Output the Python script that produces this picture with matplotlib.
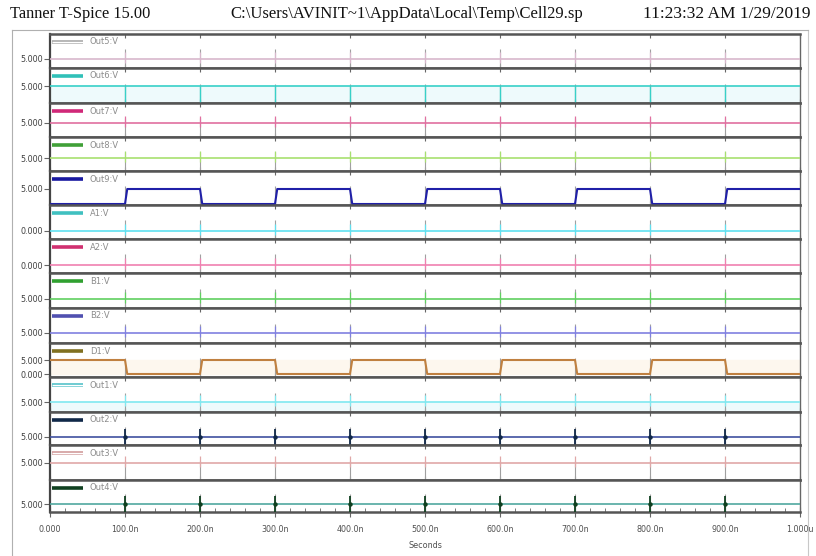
import matplotlib
matplotlib.use("Agg")
import matplotlib.pyplot as plt
from matplotlib.lines import Line2D
import numpy as np

W, H = 816, 556

# ---------------- data ----------------
signal_names = ["Out5:V", "Out6:V", "Out7:V", "Out8:V", "Out9:V", "A1:V", "A2:V",
                "B1:V", "B2:V", "D1:V", "Out1:V", "Out2:V", "Out3:V", "Out4:V"]
legend_colors = ["#a8a8a8", "#30c0b8", "#d02878", "#40a038", "#1818a0", "#40c0c0",
                 "#d03070", "#30a030", "#5050b0", "#807020", "#50c0c8", "#102848",
                 "#d09898", "#104020"]
legend_hollow = [True, False, False, False, False, False, False, False, False,
                 False, True, False, True, False]
line_colors = ["#d8b8cc", "#38d0c8", "#e070a0", "#a8e070", "#2020a8", "#60e0f0",
               "#f080b0", "#60d060", "#8080e0", "#c08040", "#80e8f0", "#4050a0",
               "#e0a8a8", "#50a8a0"]
# constant levels (None -> square wave given below)
flat_levels = [5, 5, 5, 5, None, 0, 0, 5, 5, None, 5, 5, 5, 5]
y_tick_labels = [["5.000"], ["5.000"], ["5.000"], ["5.000"], ["5.000"], ["0.000"],
                 ["0.000"], ["5.000"], ["5.000"], ["5.000", "0.000"], ["5.000"],
                 ["5.000"], ["5.000"], ["5.000"]]

segment_ns = [0, 100, 200, 300, 400, 500, 600, 700, 800, 900, 1000]
out9_levels = [0, 5, 0, 5, 0, 5, 0, 5, 0, 5]
d1_levels = [5, 0, 5, 0, 5, 0, 5, 0, 5, 0]
edge_ns = 3

glitch_ns = [100, 200, 300, 400, 500, 600, 700, 800, 900]

x_ticks_ns = [0, 100, 200, 300, 400, 500, 600, 700, 800, 900, 1000]
x_tick_labels = ["0.000", "100.0n", "200.0n", "300.0n", "400.0n", "500.0n",
                 "600.0n", "700.0n", "800.0n", "900.0n", "1.000u"]

# ---------------- layout ----------------
sep = [34, 68, 103, 137, 171, 205, 239, 273, 308, 343, 377, 412, 445, 480, 512]
# pixel offset of the level line from panel top
line_off = [25, 18, 20, 21, None, 26, 26, 26, 25, None, 25, 25, 18, 24]

fig = plt.figure(figsize=(W / 100, H / 100), dpi=100)
fig.patch.set_facecolor("white")

x0, x1 = 50, 800


def square(levels):
    t, v = [], []
    for k, lv in enumerate(levels):
        a, b = segment_ns[k], segment_ns[k + 1]
        t += [a + (edge_ns if k > 0 else 0), b]
        v += [lv, lv]
    return np.array(t), np.array(v)


for i, name in enumerate(signal_names):
    top, bot = sep[i], sep[i + 1]
    hpx = bot - top
    ax = fig.add_axes([x0 / W, 1 - bot / H, (x1 - x0) / W, hpx / H])
    ax.set_xlim(0, 1000)
    ax.set_facecolor("white")

    if flat_levels[i] is not None:
        lv = flat_levels[i]
        frac = 1 - line_off[i] / hpx
        span = 10.0
        ax.set_ylim(lv - frac * span, lv + (1 - frac) * span)
        ylo = lv - frac * span
        if name in ("Out6:V", "Out1:V"):
            ax.fill_between([0, 1000], [ylo, ylo], [lv, lv], color="#eefafc", zorder=0)
        ax.plot([0, 1000], [lv, lv], color=line_colors[i], lw=1.2, zorder=3)
        # glitches
        if name == "Out6:V":
            ax.vlines(glitch_ns, ylo, lv, color=line_colors[i], lw=1.0, zorder=3)
        elif name in ("Out2:V", "Out4:V"):
            ax.vlines(glitch_ns, lv - 0.25 * span, lv + 0.25 * span,
                      color=legend_colors[i], lw=1.3, zorder=4)
            ax.plot(glitch_ns, [lv] * len(glitch_ns), "o", ms=2.2,
                    color=legend_colors[i], zorder=5)
        else:
            ax.vlines(glitch_ns, lv - 0.12 * span, lv + 0.2 * span,
                      color=line_colors[i], lw=0.9, zorder=3)
        ticks = [lv]
    else:
        if name == "Out9:V":
            hi_off, lo_off, levels = 18, 33, out9_levels
        else:
            hi_off, lo_off, levels = 17, 31, d1_levels
        fhi, flo = 1 - hi_off / hpx, 1 - lo_off / hpx
        span = 5.0 / (fhi - flo)
        ylo = 0 - flo * span
        ax.set_ylim(ylo, ylo + span)
        t, v = square(levels)
        if name == "D1:V":
            ax.fill_between([0, 1000], [0, 0], [5, 5], color="#fdf7ee", zorder=0)
        ax.plot(t, v, color=line_colors[i], lw=1.5, zorder=3)
        ticks = [5, 0] if name == "D1:V" else [5]

    # grey division marks
    ax.vlines(glitch_ns, 0.0, 0.55, transform=ax.get_xaxis_transform(),
              color="#a0a0a0", lw=0.8, zorder=2)

    # legend swatch
    lx = [(52 - x0) / (x1 - x0), (83 - x0) / (x1 - x0)]
    ly = 1 - 8 / hpx
    ax.add_line(Line2D(lx, [ly, ly], transform=ax.transAxes, color=legend_colors[i],
                       lw=2.6, solid_capstyle="butt", zorder=6))
    if legend_hollow[i]:
        ax.add_line(Line2D(lx, [ly, ly], transform=ax.transAxes, color="white",
                           lw=1.0, solid_capstyle="butt", zorder=7))
    ax.text((90 - x0) / (x1 - x0), ly, name, transform=ax.transAxes, fontsize=6,
            color="#8c8c8c", va="center", ha="left", zorder=7)

    # spines
    for s in ("top", "bottom"):
        ax.spines[s].set_color("#555555")
        ax.spines[s].set_linewidth(1.8)
    ax.spines["left"].set_color("#444444")
    ax.spines["left"].set_linewidth(1.6)
    ax.spines["right"].set_color("#666666")
    ax.spines["right"].set_linewidth(1.0)

    ax.set_yticks(ticks)
    ax.set_yticklabels(y_tick_labels[i], fontsize=5.8, color="#404040")
    ax.tick_params(axis="y", length=4, width=0.8, color="#666666", pad=1)
    ax.set_xticks(x_ticks_ns)
    if i == len(signal_names) - 1:
        ax.set_xticklabels(x_tick_labels, fontsize=5.8, color="#505050")
        ax.set_xticks(np.arange(0, 1001, 20), minor=True)
        ax.tick_params(axis="x", which="major", direction="inout", length=7,
                       width=0.8, color="#666666", pad=6)
        ax.tick_params(axis="x", which="minor", direction="in", length=3,
                       width=0.7, color="#777777")
    else:
        ax.set_xticklabels([])
        ax.tick_params(axis="x", which="major", direction="in", length=3,
                       width=0.8, color="#666666", top=True, bottom=True)

fig.text(425 / W, 1 - 546 / H, "Seconds", fontsize=5.8, color="#505050",
         ha="center", va="center")

# header
serif = ["Liberation Serif", "DejaVu Serif"]
hy = 1 - 14 / H
fig.text(10 / W, hy, "Tanner T-Spice 15.00", family=serif, fontsize=11.8,
         ha="left", va="center", color="#111111")
fig.text(230 / W, hy, r"C:\Users\AVINIT~1\AppData\Local\Temp\Cell29.sp",
         family=serif, fontsize=12, ha="left", va="center", color="#111111")
fig.text(643 / W, hy, "11:23:32 AM 1/29/2019", family=serif, fontsize=12.5,
         ha="left", va="center", color="#111111")

# window frame lines
fig.add_artist(Line2D([12 / W, 12 / W], [1 - 30 / H, 0], transform=fig.transFigure,
                      color="#b0b0b0", lw=0.8))
fig.add_artist(Line2D([808 / W, 808 / W], [1 - 30 / H, 0], transform=fig.transFigure,
                      color="#c8c8c8", lw=0.8))
fig.add_artist(Line2D([12 / W, 808 / W], [1 - 30 / H, 1 - 30 / H],
                      transform=fig.transFigure, color="#b0b0b0", lw=0.8))

fig.savefig("out.png", dpi=100, facecolor="white")
